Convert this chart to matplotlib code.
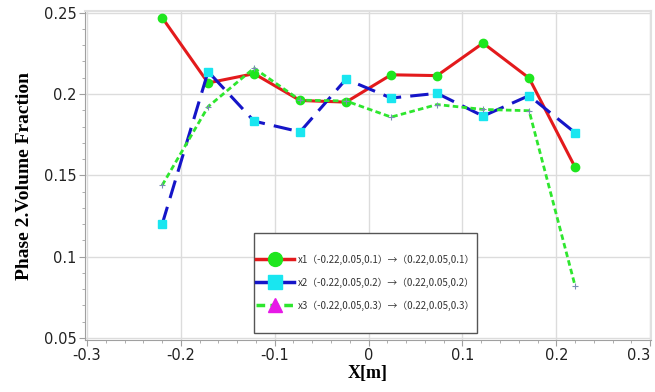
import matplotlib
matplotlib.use("Agg")
import matplotlib.pyplot as plt
from matplotlib.lines import Line2D
from matplotlib.patches import Rectangle
from matplotlib.ticker import MultipleLocator

# sample positions along each probe line
x_pos = [-0.22, -0.171, -0.122, -0.073, -0.024, 0.024, 0.073, 0.122, 0.171, 0.22]

# phase 2 volume fraction on the three probe lines
x1_vals = [0.247, 0.2068, 0.2125, 0.1960, 0.1950, 0.2118, 0.2113, 0.2313, 0.2098, 0.1550]
x2_vals = [0.1198, 0.2138, 0.1833, 0.1767, 0.2091, 0.1975, 0.2004, 0.1864, 0.1990, 0.1762]
x3_vals = [0.1438, 0.1922, 0.2159, 0.1962, 0.1957, 0.1858, 0.1935, 0.1905, 0.1897, 0.0821]

labels = [
    "x1（-0.22,0.05,0.1）→（0.22,0.05,0.1）",
    "x2（-0.22,0.05,0.2）→（0.22,0.05,0.2）",
    "x3（-0.22,0.05,0.3）→（0.22,0.05,0.3）",
]

fig = plt.figure(figsize=(6.55, 3.92), dpi=100)
ax = fig.add_axes([0.130, 0.133, 0.864, 0.838])

ax.plot(x_pos, x1_vals, color="#e31a1c", lw=2.2, marker="o", ms=6,
        markerfacecolor="#1ee61e", markeredgecolor="#1ee61e", zorder=3)
ax.plot(x_pos, x2_vals, color="#1515c8", lw=2.2, ls=(0, (6, 3)), marker="s", ms=6,
        markerfacecolor="#19e6f0", markeredgecolor="#19e6f0", zorder=3)
ax.plot(x_pos, x3_vals, color="#2ee62e", lw=2.0, ls=(0, (2, 1.2)), marker="+", ms=4,
        markeredgecolor="#7a8cb4", markeredgewidth=0.8, zorder=4)

ax.set_xlim(-0.302, 0.301)
ax.set_ylim(0.0488, 0.2508)
ax.xaxis.set_minor_locator(MultipleLocator(0.02))
ax.yaxis.set_minor_locator(MultipleLocator(0.01))
ax.set_xticks([-0.3, -0.2, -0.1, 0, 0.1, 0.2, 0.3])
ax.set_xticklabels(["-0.3", "-0.2", "-0.1", "0", "0.1", "0.2", "0.3"])
ax.set_yticks([0.05, 0.1, 0.15, 0.2, 0.25])
ax.set_yticklabels(["0.05", "0.1", "0.15", "0.2", "0.25"])
# keep the last x label inside the figure
ax.get_xticklabels()[-1].set_horizontalalignment("right")

ax.grid(True, which="major", color="#dcdcdc", lw=1.0)
ax.set_axisbelow(True)
for side in ["top", "right"]:
    ax.spines[side].set_color("#e0e0e0")
    ax.spines[side].set_linewidth(1.5)
for side in ["left", "bottom"]:
    ax.spines[side].set_color("#a0a0a0")
ax.tick_params(which="major", length=4, color="#a0a0a0", labelsize=10.5,
               labelcolor="#222222", pad=2)
ax.tick_params(which="minor", length=2, color="#a0a0a0")

ax.set_xlabel("X[m]", family="Liberation Serif", fontweight="bold", fontsize=13, labelpad=1)
ax.set_ylabel("Phase 2.Volume Fraction", family="Liberation Serif", fontweight="bold",
              fontsize=14, labelpad=8)

# legend box drawn by hand so it can carry the extra empty space
ax.add_patch(Rectangle((0.2986, 0.0213), 0.394, 0.3047, transform=ax.transAxes,
                       facecolor="white", edgecolor="#555555", lw=1.0, zorder=5))

handles = [
    Line2D([], [], color="#e31a1c", lw=2.5, marker="o", ms=10,
           markerfacecolor="#1ee61e", markeredgecolor="#1ee61e"),
    Line2D([], [], color="#1515c8", lw=2.5, marker="s", ms=10,
           markerfacecolor="#19e6f0", markeredgecolor="#19e6f0"),
    Line2D([], [], color="#2ee62e", lw=2.5, ls=(0, (2.5, 1.5)), marker="^", ms=10,
           markerfacecolor="#e619e6", markeredgecolor="#e619e6"),
]
leg = ax.legend(handles, labels, loc="center", bbox_to_anchor=(0.495, 0.175),
                prop={"family": ["Noto Sans CJK SC", "DejaVu Sans"], "size": 7},
                frameon=False, handlelength=3.9, handletextpad=0.4,
                labelspacing=1.3, borderpad=0, labelcolor="#333333")
leg.set_zorder(6)

fig.savefig("out.png", dpi=100)
